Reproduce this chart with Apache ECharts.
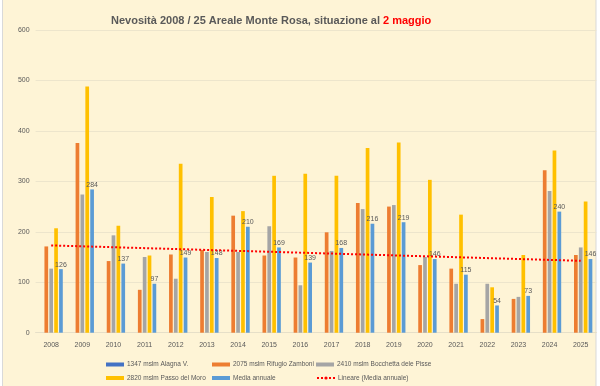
<!DOCTYPE html>
<html>
<head>
<meta charset="utf-8">
<script src="https://cdn.jsdelivr.net/npm/echarts@6/dist/echarts.min.js"></script>
<style>
html,body{margin:0;padding:0;background:#ffffff;}
#chart{width:600px;height:386px;}
</style>
</head>
<body>
<div id="chart"></div>
<script>
var years = ['2008','2009','2010','2011','2012','2013','2014','2015','2016','2017','2018','2019','2020','2021','2022','2023','2024','2025'];
var alagna = [null,null,null,null,null,null,null,null,null,null,null,null,null,null,null,null,null,null];
var zamboni = [171,376,142,85,155,164,232,153,149,199,257,250,134,127,27,67,322,154];
var pisse = [127,274,193,150,107,160,160,211,94,162,245,253,150,97,97,71,281,169];
var moro = [207,488,212,153,335,269,241,311,315,311,366,377,303,234,90,154,361,260];
var media = [126,284,137,97,149,148,210,169,139,168,216,219,146,115,54,73,240,146];
var trendStart = 173;
var trendEnd = 142.5;
var yTicks = [0,100,200,300,400,500,600];

var names = ['1347 mslm Alagna V.','2075 mslm Rifugio Zamboni','2410 mslm Bocchetta dele Pisse','2820 mslm Passo del Moro','Media annuale','Lineare (Media annuale)'];
var colors = ['#4472C4','#ED7D31','#A5A5A5','#FFC000','#5B9BD5','#FF0000'];

var trend = years.map(function(y,i){ return i===0 ? trendStart : (i===years.length-1 ? trendEnd : null); });

var txt = '#595959';
var font = 'Liberation Sans, Arial, sans-serif';

function barSeries(idx, data, label){
  var s = {
    name: names[idx], type: 'bar', data: data,
    barWidth: 3.7, barGap: '32%',
    itemStyle: {color: colors[idx]},
    z: 3
  };
  if (label) {
    s.label = {show: true, position: 'top', distance: 1, color: txt, fontSize: 7, fontFamily: font};
  }
  return s;
}

var legendPos = [[106,361],[212,361],[316,361],[106,374.5],[212,374.5],[316,374.5]];
var legends = names.map(function(n,i){
  var l = {
    data: [n], left: legendPos[i][0], top: legendPos[i][1],
    itemWidth: 18, itemHeight: 4, itemGap: 4,
    textStyle: {color: txt, fontSize: 6.5, fontFamily: font, padding: [0,0,0,-2]},
    selectedMode: false, padding: 0
  };
  if (i < 5) l.icon = 'rect';
  return l;
});

var chart = echarts.init(document.getElementById('chart'));
chart.setOption({
  backgroundColor: '#ffffff',
  animation: false,
  graphic: [{
    type: 'rect', z: -10, silent: true,
    shape: {x: 2.5, y: -1, width: 593.5, height: 390},
    style: {fill: '#FEF4D6', stroke: '#D9D9D9', lineWidth: 1}
  }],
  title: {
    left: 106, top: 10,
    text: '{a|Nevosità 2008 / 25 Areale Monte Rosa, situazione al }{b|2 maggio}',
    textStyle: {
      rich: {
        a: {color: '#595959', fontSize: 11, fontFamily: font, fontWeight: 'bold'},
        b: {color: '#FF0000', fontSize: 11, fontFamily: font, fontWeight: 'bold'}
      }
    }
  },
  legend: legends,
  grid: {left: 35.6, right: 3.7, top: 30, bottom: 53.3, containLabel: false},
  xAxis: {
    type: 'category', data: years,
    axisTick: {show: false},
    axisLine: {lineStyle: {color: '#E6DFC8', width: 1}},
    axisLabel: {color: txt, fontSize: 7, fontFamily: font, margin: 9}
  },
  yAxis: {
    type: 'value', min: yTicks[0], max: yTicks[yTicks.length-1], interval: 100,
    axisLine: {show: false}, axisTick: {show: false},
    splitLine: {lineStyle: {color: '#EDE5CC', width: 1}},
    axisLabel: {color: txt, fontSize: 7, fontFamily: font, margin: 6}
  },
  series: [
    barSeries(0, alagna),
    barSeries(1, zamboni),
    barSeries(2, pisse),
    barSeries(3, moro),
    barSeries(4, media, true),
    {
      name: names[5], type: 'line', data: trend, connectNulls: true,
      symbol: 'none', z: 5,
      lineStyle: {color: colors[5], width: 2, type: [2,2]},
      itemStyle: {color: colors[5]}
    }
  ]
});
</script>
</body>
</html>
